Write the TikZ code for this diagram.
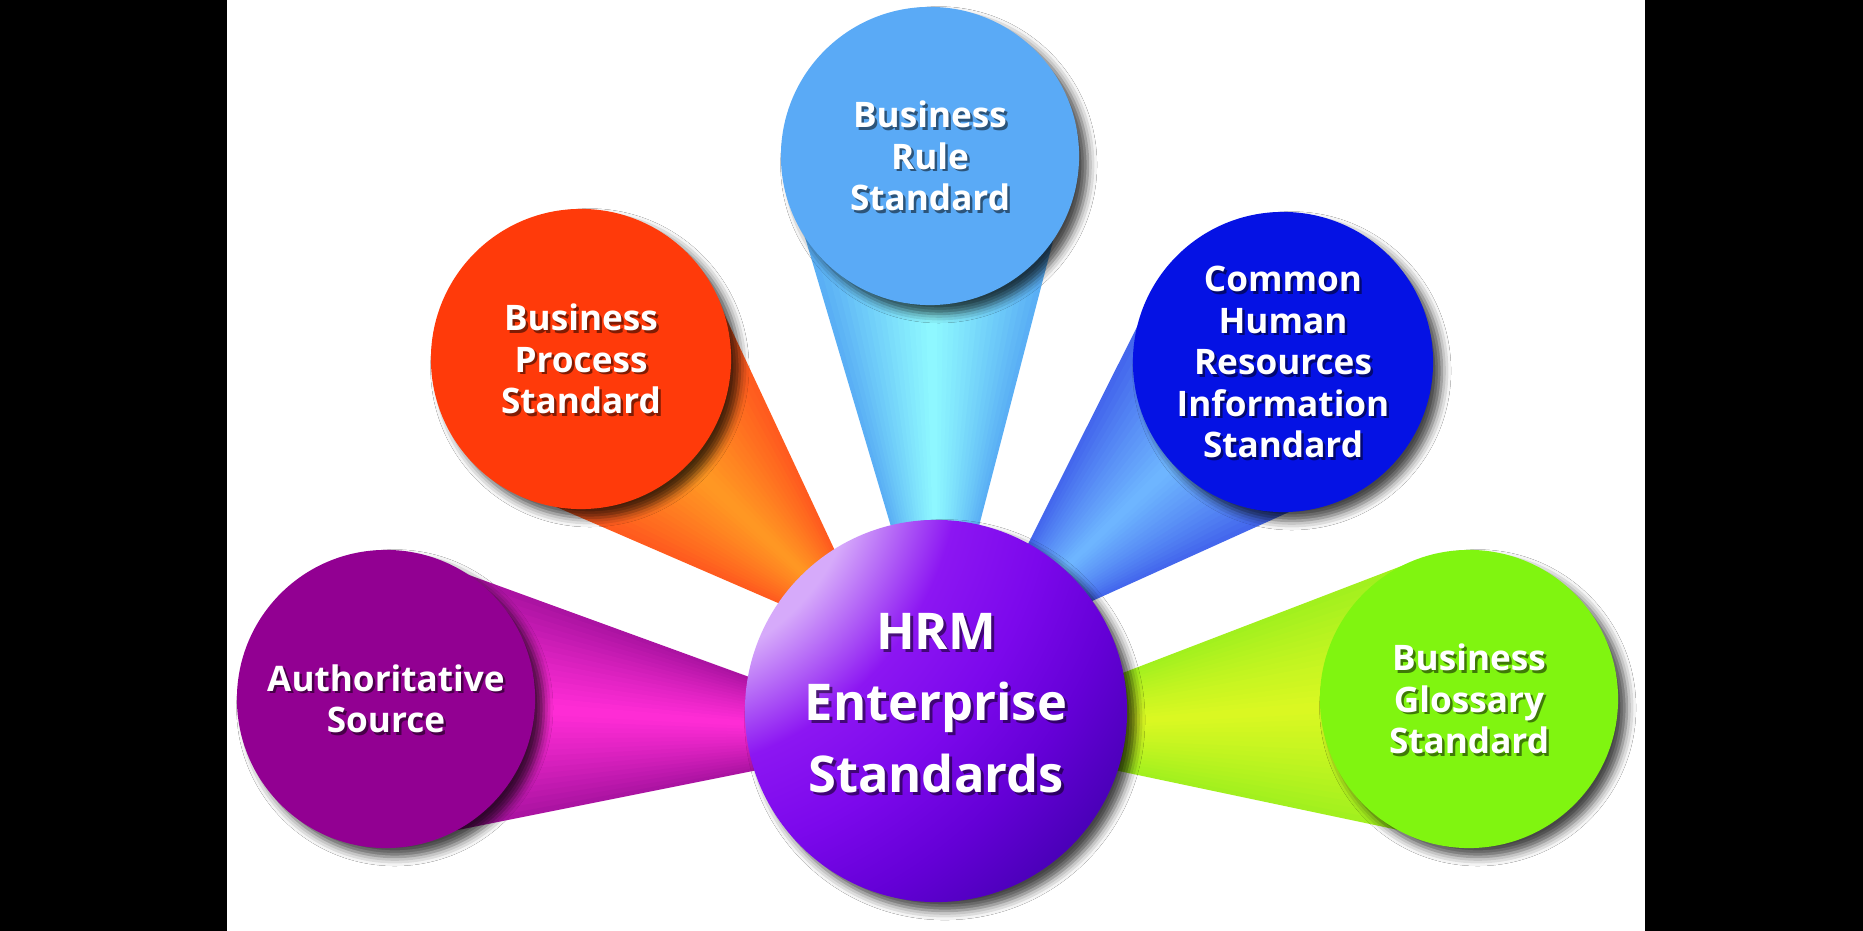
\documentclass[tikz,border=0pt]{standalone}
\usepackage{fontspec}
\setmainfont{Open Sans}
\usetikzlibrary{calc,shadows.blur}
\definecolor{ruleC}{RGB}{90,170,246}
\definecolor{procC}{RGB}{255,58,10}
\definecolor{chrC}{RGB}{5,18,228}
\definecolor{authC}{RGB}{146,0,146}
\definecolor{glosC}{RGB}{128,245,16}
\definecolor{ruleE}{RGB}{88,172,244}
\definecolor{ruleM}{RGB}{142,248,255}
\definecolor{procE}{RGB}{255,88,30}
\definecolor{procM}{RGB}{255,152,35}
\definecolor{chrE}{RGB}{66,100,236}
\definecolor{chrM}{RGB}{110,182,255}
\definecolor{authE}{RGB}{168,18,160}
\definecolor{authM}{RGB}{255,44,214}
\definecolor{glosE}{RGB}{160,240,30}
\definecolor{glosM}{RGB}{218,248,34}
\definecolor{hrmL}{RGB}{214,170,250}
\definecolor{hrmM}{RGB}{140,22,242}
\definecolor{hrmN}{RGB}{124,8,236}
\definecolor{hrmP}{RGB}{100,0,214}
\definecolor{hrmD}{RGB}{74,0,184}
\pgfdeclareradialshading{hrmball}{\pgfpoint{0bp}{0bp}}{color(0bp)=(hrmL); color(8bp)=(hrmL); color(11.6bp)=(hrmM); color(14.8bp)=(hrmN); color(18bp)=(hrmP); color(21bp)=(hrmD); color(50bp)=(hrmD)}
\newcommand\drawbeam[6]{%
  \foreach \k in {0,...,35}{%
    \pgfmathsetmacro\sa{\k/36}%
    \pgfmathsetmacro\sb{min(1,(\k+1.4)/36)}%
    \pgfmathtruncatemacro\pc{100*pow(abs(2*(\k+0.5)/36-1),1.15)}%
    \fill[#5!\pc!#6] ($(#1)!\sa!(#2)$) -- ($(#1)!\sb!(#2)$) -- ($(#3)!\sb!(#4)$) -- ($(#3)!\sa!(#4)$) -- cycle;
  }}
\tikzset{
  bubble/.style={circle, inner sep=0pt, minimum size=#1,
    blur shadow={shadow xshift=2.5pt, shadow yshift=-2.5pt, shadow blur radius=2.6pt, shadow opacity=72}},
  lbl/.style={text=white, align=center, inner sep=0pt, font=\bfseries\fontsize{10}{11.8}\selectfont},
  lblsh/.style={lbl, text=black, opacity=.5},
  biglbl/.style={lbl, font=\bfseries\fontsize{14.4}{20.3}\selectfont},
  biglblsh/.style={biglbl, text=black, opacity=.5}
}
\begin{document}
\begin{tikzpicture}[x=0.01cm,y=-0.01cm]
\useasboundingbox (0,0) rectangle (1863,931);
\fill[white] (0,0) rectangle (1863,931);
\fill[black] (0,0) rectangle (227,931);
\fill[black] (1645,0) rectangle (1863,931);

% beam corners: outer a, outer b, inner a, inner b
\coordinate (auA) at (436,563);  \coordinate (auB) at (413,839);
\coordinate (auC) at (752,678);  \coordinate (auD) at (758,770);
\coordinate (prA) at (524,493);  \coordinate (prB) at (720,305);
\coordinate (prC) at (785,606);  \coordinate (prD) at (836,553);
\coordinate (ruA) at (793,197);  \coordinate (ruB) at (1066,191);
\coordinate (ruC) at (892,530);  \coordinate (ruD) at (978,530);
\coordinate (chA) at (1152,297); \coordinate (chB) at (1340,489);
\coordinate (chC) at (1026,548); \coordinate (chD) at (1090,602);
\coordinate (glA) at (1412,562); \coordinate (glB) at (1441,839);
\coordinate (glC) at (1120,674); \coordinate (glD) at (1114,770);

\drawbeam{auA}{auB}{auC}{auD}{authE}{authM}
\drawbeam{prA}{prB}{prC}{prD}{procE}{procM}
\drawbeam{ruA}{ruB}{ruC}{ruD}{ruleE}{ruleM}
\drawbeam{chA}{chB}{chC}{chD}{chrE}{chrM}
\drawbeam{glA}{glB}{glC}{glD}{glosE}{glosM}

% outer circles
\node[bubble=2.98cm, fill=ruleC] (rule) at (930,156) {};
\node[bubble=3.00cm, fill=procC] (proc) at (581,359) {};
\node[bubble=3.00cm, fill=chrC] (chr) at (1283,362) {};
\node[bubble=2.98cm, fill=authC] (auth) at (386,699) {};
\node[bubble=2.98cm, fill=glosC] (glos) at (1469,699) {};

% central circle
\node[bubble=3.82cm, path picture={
  \shade[shading=hrmball] ($(path picture bounding box.center)+(-300,-260)$) circle (700);}] (hrm) at (936,711) {};

% labels
\node[lblsh] (rule-s) at ($(rule)+(2.5,2.5)$) {Business\\Rule\\Standard};
\node[lbl] (rule-t) at (rule) {Business\\Rule\\Standard};
\node[lblsh] (proc-s) at ($(proc)+(2.5,2.5)$) {Business\\Process\\Standard};
\node[lbl] (proc-t) at (proc) {Business\\Process\\Standard};
\node[lblsh] (chr-s) at ($(chr)+(2.5,2.5)$) {Common\\Human\\Resources\\Information\\Standard};
\node[lbl] (chr-t) at (chr) {Common\\Human\\Resources\\Information\\Standard};
\node[lblsh] (auth-s) at ($(auth)+(2.5,2.5)$) {Authoritative\\Source};
\node[lbl] (auth-t) at (auth) {Authoritative\\Source};
\node[lblsh] (glos-s) at ($(glos)+(2.5,2.5)$) {Business\\Glossary\\Standard};
\node[lbl] (glos-t) at (glos) {Business\\Glossary\\Standard};
\node[biglblsh] (hrm-s) at ($(hrm)+(3,-5)$) {HRM\\Enterprise\\Standards};
\node[biglbl] (hrm-t) at ($(hrm)+(0,-8)$) {HRM\\Enterprise\\Standards};
\end{tikzpicture}
\end{document}
